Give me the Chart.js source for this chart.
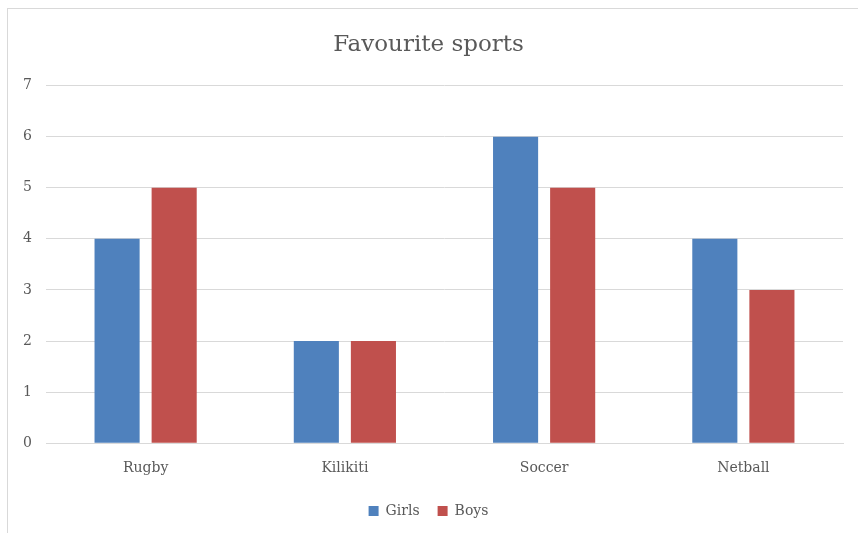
<!DOCTYPE html>
<html>
<head>
<meta charset="utf-8">
<script src="https://cdn.jsdelivr.net/npm/chart.js@4"></script>
<style>
  body { margin: 0; background: #fff; }
  #wrap { position: relative; width: 858px; height: 533px; overflow: hidden; }
  #frame { position: absolute; left: 7px; top: 8px; width: 900px; height: 600px; border: 1px solid #d9d9d9; box-sizing: border-box; }
  canvas { position: absolute; left: 0; top: 0; }
</style>
</head>
<body>
<div id="wrap">
  <div id="frame"></div>
  <canvas id="chart" width="858" height="533"></canvas>
</div>
<script>
// data
var sports = ['Rugby', 'Kilikiti', 'Soccer', 'Netball'];
var girls = [4, 2, 6, 4];
var boys = [5, 2, 5, 3];

var tickFont = { family: 'DejaVu Serif', size: 14 };

var ctx = document.getElementById('chart').getContext('2d');
var myChart = new Chart(ctx, {
    type: 'bar',
    data: {
        labels: sports,
        datasets: [{
            label: 'Girls',
            data: girls,
            backgroundColor: '#4f81bd',
            categoryPercentage: 0.573,
            barPercentage: 0.79
        }, {
            label: 'Boys',
            data: boys,
            backgroundColor: '#c0504d',
            categoryPercentage: 0.573,
            barPercentage: 0.79
        }]
    },
    options: {
        responsive: false,
        animation: false,
        layout: { padding: { left: 14, right: 15, top: 31, bottom: 5 } },
        plugins: {
            title: {
                display: true,
                text: 'Favourite sports',
                color: '#595959',
                font: { family: 'DejaVu Serif', size: 23, weight: 'normal' },
                padding: { top: 0, bottom: 27 }
            },
            legend: {
                position: 'bottom',
                labels: {
                    color: '#595959',
                    font: tickFont,
                    boxWidth: 10,
                    boxHeight: 10,
                    padding: 18
                }
            },
            tooltip: { enabled: false }
        },
        scales: {
            x: {
                grid: { display: false },
                border: { color: '#d9d9d9' },
                ticks: { color: '#595959', font: tickFont, padding: 9 }
            },
            y: {
                min: 0,
                max: 7,
                ticks: { stepSize: 1, color: '#595959', font: tickFont, padding: 14 },
                grid: { color: '#d9d9d9', drawTicks: false },
                border: { display: false },
                afterFit: function (scale) { scale.width = 32; }
            }
        }
    }
});
</script>
</body>
</html>
